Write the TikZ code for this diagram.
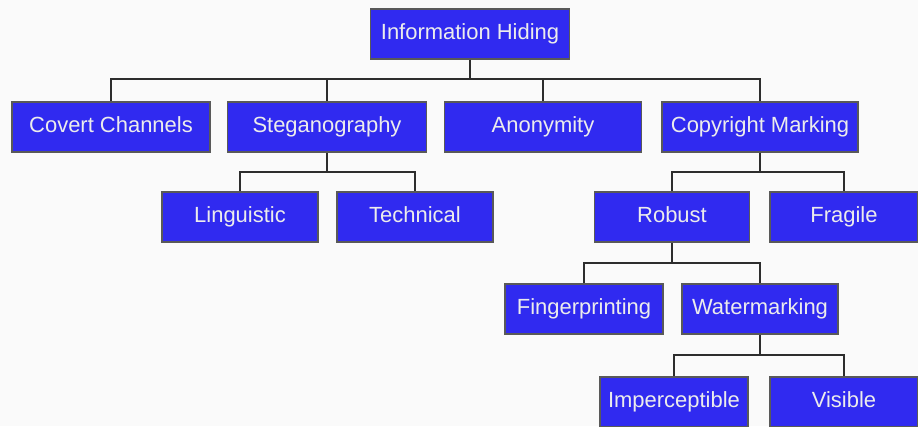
\documentclass[tikz,border=0pt]{standalone}
\usepackage{fontspec}
\setmainfont{Liberation Sans}
\usetikzlibrary{positioning}
\definecolor{boxblue}{RGB}{48,42,240}
\definecolor{boxtext}{RGB}{236,236,236}
\definecolor{linkgrey}{RGB}{45,45,45}
\definecolor{paper}{RGB}{250,250,250}

\begin{document}
\begin{tikzpicture}[x=0.02cm, y=-0.02cm,
  box/.style={draw=black!65, line width=1pt, fill=boxblue, text=boxtext,
    minimum width=#1*0.02cm, minimum height=1cm, inner sep=0pt,
    text height=1.6ex, text depth=0.45ex,
    font=\fontsize{12.5}{15}\selectfont},
  link/.style={draw=linkgrey, line width=1.5pt}]

\fill[paper] (0,0) rectangle (918,426);
\useasboundingbox (0,0) rectangle (918,426);

\node[box=199] (info) at (470,34) {Information Hiding};

\node[box=198] (covert) at (111,127) {Covert Channels};
\node[box=199] (steg) at (327,127) {Steganography};
\node[box=197] (anon) at (543,127) {Anonymity};
\node[box=196] (copy) at (760,127) {Copyright Marking};

\node[box=156] (ling) at (240,217) {Linguistic};
\node[box=156] (tech) at (415,217) {Technical};
\node[box=155] (robust) at (672,217) {Robust};
\node[box=148] (fragile) at (844,217) {Fragile};

\node[box=158] (finger) at (584,309) {Fingerprinting};
\node[box=156] (water) at (760,309) {Watermarking};

\node[box=148] (imper) at (674,402) {Imperceptible};
\node[box=148] (visible) at (844,402) {Visible};

\coordinate (bar0) at (0,79);
\coordinate (bar1) at (0,172);
\coordinate (bar2) at (0,263);
\coordinate (bar3) at (0,355);

\foreach \c in {covert,steg,anon,copy}
  \draw[link] (info.south) |- (\c.north |- bar0) -- (\c.north);
\foreach \c in {ling,tech}
  \draw[link] (steg.south) |- (\c.north |- bar1) -- (\c.north);
\foreach \c in {robust,fragile}
  \draw[link] (copy.south) |- (\c.north |- bar1) -- (\c.north);
\foreach \c in {finger,water}
  \draw[link] (robust.south) |- (\c.north |- bar2) -- (\c.north);
\foreach \c in {imper,visible}
  \draw[link] (water.south) |- (\c.north |- bar3) -- (\c.north);

\end{tikzpicture}
\end{document}
